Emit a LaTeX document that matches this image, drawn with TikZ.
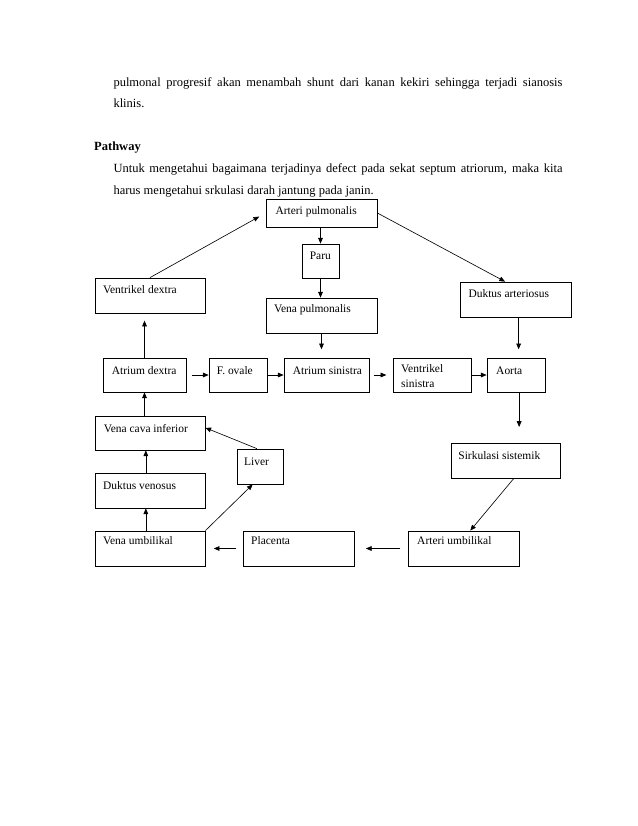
\documentclass[tikz,border=0pt]{standalone}
\usepackage{fontspec}
\setmainfont{Liberation Serif}
\usetikzlibrary{arrows.meta,fit,calc}
\begin{document}
\begin{tikzpicture}[x=0.9592pt,y=-0.9592pt,
 box/.style={draw=black,line width=0.75pt,inner sep=0pt,rectangle},
 lbl/.style={anchor=base west,inner sep=0pt,font=\fontsize{11pt}{13pt}\selectfont},
 body/.style={anchor=base west,inner sep=0pt,font=\fontsize{12pt}{14pt}\selectfont},
 arr/.style={line width=0.6pt,-{Triangle[length=5.5pt,width=4.5pt]}}]
\fill[white] (0,0) rectangle (638,826);
\useasboundingbox (0,0) rectangle (638,826);

% body text
\node[body] (t1) at (113.3,86) {\makebox[430.7pt][s]{pulmonal progresif akan menambah shunt dari kanan kekiri sehingga terjadi sianosis}};
\node[body] (t2) at (113.3,107.7) {klinis.};
\node[body,font=\fontsize{12pt}{14pt}\selectfont\bfseries] (t3) at (94,150) {Pathway};
\node[body] (t4) at (113.3,172.7) {\makebox[430.7pt][s]{Untuk mengetahui bagaimana terjadinya defect pada sekat septum atriorum, maka kita}};
\node[body] (t5) at (113.3,194.3) {harus mengetahui srkulasi darah jantung pada janin.};

% boxes
\node[box,fit={(266,199) (377,227)}] (ap) {};
\node[box,fit={(302,244) (339,278)}] (paru) {};
\node[box,fit={(95,278) (205,313)}] (vd) {};
\node[box,fit={(266,298) (377,333)}] (vp) {};
\node[box,fit={(460,282) (571,317)}] (da) {};
\node[box,fit={(103,358) (186,392)}] (ad) {};
\node[box,fit={(209,358) (267,392)}] (fo) {};
\node[box,fit={(284,358) (369,392)}] (as) {};
\node[box,fit={(393,358) (471,392)}] (vs) {};
\node[box,fit={(487,358) (545,392)}] (ao) {};
\node[box,fit={(95,416) (205,450)}] (vci) {};
\node[box,fit={(451,443) (560,478)}] (ss) {};
\node[box,fit={(237,449) (283,484)}] (lv) {};
\node[box,fit={(95,473) (205,508)}] (dv) {};
\node[box,fit={(95,531) (205,566)}] (vu) {};
\node[box,fit={(243,531) (354,566)}] (pl) {};
\node[box,fit={(408,531) (519,566)}] (au) {};

% labels
\node[lbl] (ap-t) at ($(ap.north west)+(9.7,15.5)$) {Arteri pulmonalis};
\node[lbl] (paru-t) at ($(paru.north west)+(8,15.8)$) {Paru};
\node[lbl] (vd-t) at ($(vd.north west)+(8.3,15.8)$) {Ventrikel dextra};
\node[lbl] (vp-t) at ($(vp.north west)+(8.3,14.8)$) {Vena pulmonalis};
\node[lbl] (da-t) at ($(da.north west)+(8.7,16)$) {Duktus arteriosus};
\node[lbl] (ad-t) at ($(ad.north west)+(9,16.5)$) {Atrium dextra};
\node[lbl] (fo-t) at ($(fo.north west)+(8,16.5)$) {F. ovale};
\node[lbl] (as-t) at ($(as.north west)+(9,16.5)$) {Atrium sinistra};
\node[lbl] (vs-t1) at ($(vs.north west)+(8.4,15)$) {Ventrikel};
\node[lbl] (vs-t2) at ($(vs.north west)+(8.4,30)$) {sinistra};
\node[lbl] (ao-t) at ($(ao.north west)+(9.4,16.5)$) {Aorta};
\node[lbl] (vci-t) at ($(vci.north west)+(9,16.5)$) {Vena cava inferior};
\node[lbl] (ss-t) at ($(ss.north west)+(7.6,16.5)$) {Sirkulasi sistemik};
\node[lbl] (lv-t) at ($(lv.north west)+(7.3,16.5)$) {Liver};
\node[lbl] (dv-t) at ($(dv.north west)+(8.3,16.5)$) {Duktus venosus};
\node[lbl] (vu-t) at ($(vu.north west)+(8.3,14)$) {Vena umbilikal};
\node[lbl] (pl-t) at ($(pl.north west)+(8.4,14)$) {Placenta};
\node[lbl] (au-t) at ($(au.north west)+(9.4,14)$) {Arteri umbilikal};

% helper coordinates
\coordinate (dan) at ([xshift=3pt]da.south);
\coordinate (aos) at ([xshift=3pt]ao.south);
\coordinate (dvn) at ([xshift=-4pt]dv.north);
\coordinate (vun) at ([xshift=-4pt]vu.north);
\coordinate (dat) at ([xshift=-10pt]da.north);
\coordinate (lvn) at ([xshift=-3pt]lv.north);
\coordinate (vcie) at ([yshift=5pt]vci.east);
\coordinate (lvs) at ([xshift=-7pt]lv.south);
\coordinate (sss) at ([xshift=8pt]ss.south);
\coordinate (aun) at ([xshift=6.5pt]au.north);

% connectors
\draw[arr,shorten >=7pt] (vd.north) -- (ap.west);
\draw[arr] (ap.east) -- (dat);
\draw[arr] (paru.north |- ap.south) -- (paru.north);
\draw[arr] (paru.south) -- (paru.south |- vp.north);
\draw[arr,shorten >=8pt] (vp.south) -- (vp.south |- as.north);
\draw[arr,shorten >=8pt] (dan) -- (dan |- ao.north);
\draw[arr,shorten >=7pt] (ad.north) -- (ad.north |- vd.south);
\draw[arr,shorten <=5pt] (ad.east) -- (fo.west);
\draw[arr] (fo.east) -- (as.west);
\draw[arr,shorten <=4pt,shorten >=6pt] (as.east) -- (vs.west);
\draw[arr] (vs.east) -- (ao.west);
\draw[arr,shorten >=15pt] (aos) -- (aos |- ss.north);
\draw[arr] (ad.south |- vci.north) -- (ad.south);
\draw[arr] (lvn) -- (vcie);
\draw[arr] (dvn) -- (dvn |- vci.south);
\draw[arr] (vun) -- (vun |- dv.south);
\draw[arr] (vu.north east) -- (lvs);
\draw[arr,shorten <=6pt,shorten >=8pt] (pl.west) -- (vu.east);
\draw[arr,shorten <=7pt,shorten >=11pt] (au.west) -- (pl.east);
\draw[arr] (sss) -- (aun);
\end{tikzpicture}
\end{document}
